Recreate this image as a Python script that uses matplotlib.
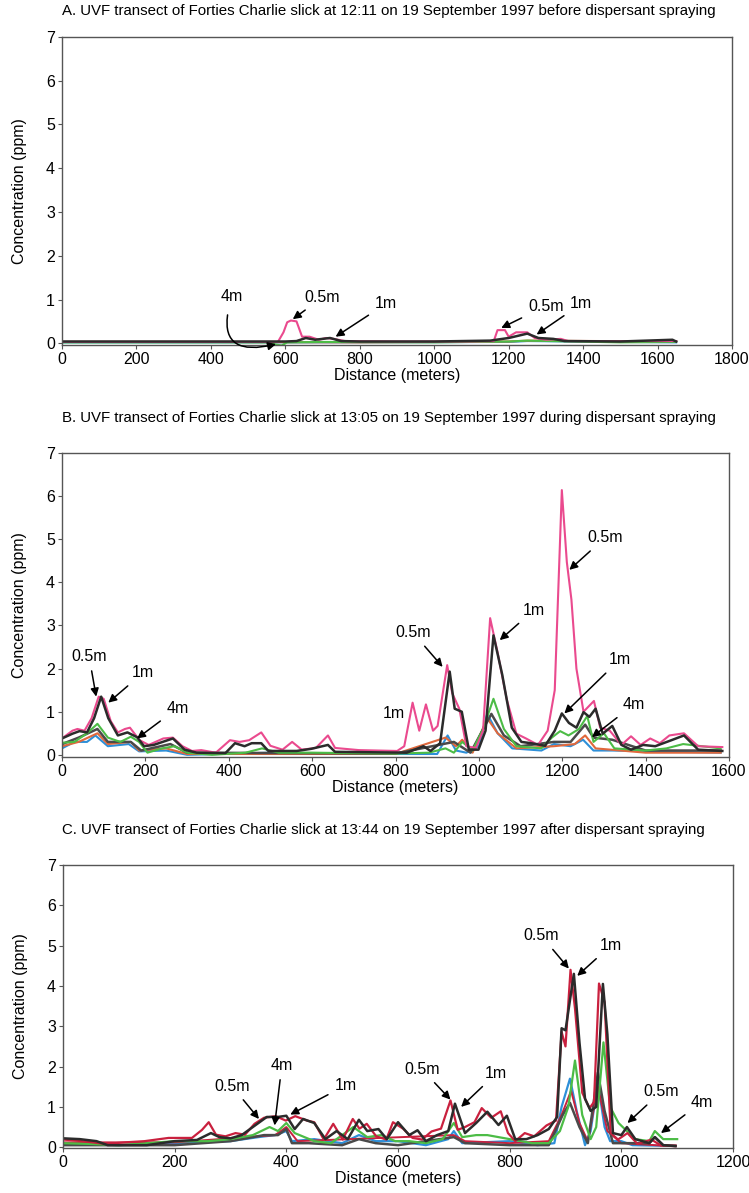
import matplotlib
matplotlib.use("Agg")
import matplotlib.pyplot as plt

# --------------------------------------------------
# DATA
# --------------------------------------------------
TITLE_A = "A. UVF transect of Forties Charlie slick at 12:11 on 19 September 1997 before dispersant spraying"
TITLE_B = "B. UVF transect of Forties Charlie slick at 13:05 on 19 September 1997 during dispersant spraying"
TITLE_C = "C. UVF transect of Forties Charlie slick at 13:44 on 19 September 1997 after dispersant spraying"

# ---- panel A ----
a_x_05 = [0, 200, 400, 580, 595, 605, 615, 630, 645, 665, 690, 710, 730, 760, 900, 1100, 1160, 1170,
          1190, 1200, 1220, 1250, 1270, 1300, 1340, 1360, 1500, 1650]
a_y_05 = [0.03, 0.03, 0.03, 0.03, 0.25, 0.48, 0.52, 0.5, 0.15, 0.15, 0.08, 0.12, 0.1, 0.05, 0.04, 0.04, 0.05, 0.3,
          0.3, 0.15, 0.25, 0.25, 0.12, 0.08, 0.1, 0.05, 0.05, 0.05]
a_x_1 = [0, 200, 400, 600, 630, 655, 680, 720, 750, 800, 1000, 1150, 1200, 1250, 1280, 1320, 1350, 1500, 1640, 1650]
a_y_1 = [0.04, 0.04, 0.04, 0.04, 0.05, 0.12, 0.08, 0.12, 0.05, 0.04, 0.04, 0.06, 0.12, 0.22, 0.12, 0.1, 0.05, 0.04, 0.08, 0.04]
a_x_g = [0, 300, 550, 575, 590, 605, 700, 1000, 1200, 1250, 1500, 1650]
a_y_g = [0.02, 0.02, 0.02, -0.03, -0.05, 0.02, 0.03, 0.02, 0.04, 0.06, 0.02, 0.03]
a_x_b = [0, 400, 800, 1200, 1250, 1650]
a_y_b = [0.02, 0.02, 0.02, 0.03, 0.05, 0.02]
a_x_o = [0, 400, 800, 1200, 1250, 1650]
a_y_o = [0.03, 0.03, 0.02, 0.04, 0.06, 0.04]

# ---- panel B ----
b_x_05 = [0, 25, 37, 54, 71, 88, 100, 117, 134, 151, 163, 186, 208, 243, 266, 289, 312, 334, 369,
          403, 426, 449, 478, 500, 529, 552, 575, 609, 638, 655, 712, 804, 821, 841, 857, 873, 890,
          901, 924, 936, 953, 970, 993, 1010, 1027, 1045, 1067, 1090, 1113, 1142, 1165, 1182, 1199,
          1211, 1222, 1234, 1251, 1276, 1291, 1314, 1342, 1365, 1388, 1411, 1434, 1457, 1492, 1526, 1584]
b_y_05 = [0.38, 0.56, 0.6, 0.56, 0.85, 1.35, 1.3, 0.78, 0.52, 0.6, 0.63, 0.34, 0.23, 0.38, 0.4, 0.2, 0.09, 0.11, 0.05,
          0.34, 0.3, 0.34, 0.52, 0.21, 0.12, 0.3, 0.12, 0.16, 0.45, 0.16, 0.11, 0.09, 0.2, 1.21, 0.56, 1.17, 0.56,
          0.67, 2.08, 1.43, 1.07, 0.2, 0.16, 0.56, 3.17, 2.37, 1.28, 0.49, 0.38, 0.23, 0.56, 1.5, 6.14,
          4.47, 3.6, 2.0, 1.0, 1.25, 0.63, 0.56, 0.23, 0.43, 0.23, 0.38, 0.27, 0.45, 0.5, 0.2, 0.18]
b_x_1 = [0, 25, 42, 60, 77, 94, 111, 134, 157, 180, 197, 220, 266, 294, 323, 392, 415, 438, 455, 478,
         495, 563, 598, 638, 655, 827, 867, 884, 907, 930, 942, 959, 976, 999, 1016, 1035, 1056, 1079,
         1102, 1125, 1159, 1182, 1199, 1216, 1234, 1251, 1265, 1280, 1297, 1320, 1342, 1365, 1394,
         1423, 1462, 1492, 1526, 1584]
b_y_1 = [0.38, 0.49, 0.55, 0.52, 0.85, 1.35, 0.85, 0.45, 0.52, 0.41, 0.2, 0.23, 0.38, 0.12, 0.05, 0.04, 0.27, 0.2, 0.27, 0.27,
         0.09, 0.09, 0.14, 0.23, 0.07, 0.05, 0.2, 0.09, 0.27, 1.93, 1.07, 1.0, 0.12, 0.12, 0.56, 2.77, 1.86, 0.63,
         0.3, 0.27, 0.21, 0.56, 0.96, 0.74, 0.63, 0.99, 0.88, 1.07, 0.49, 0.67, 0.23, 0.12, 0.23,
         0.2, 0.34, 0.45, 0.12, 0.09]
b_x_g = [0, 30, 60, 85, 110, 140, 165, 185, 205, 240, 270, 300, 360, 440, 480, 520, 600, 800, 880, 920,
         940, 960, 985, 1010, 1035, 1060, 1090, 1150, 1175, 1195, 1215, 1240, 1260, 1275, 1300, 1325,
         1400, 1450, 1490, 1580]
b_y_g = [0.28, 0.3, 0.5, 0.72, 0.4, 0.3, 0.42, 0.3, 0.05, 0.15, 0.2, 0.05, 0.0, 0.05, 0.15, 0.05, 0.05, 0.03, 0.05, 0.15,
         0.05, 0.3, 0.1, 0.6, 1.3, 0.6, 0.2, 0.15, 0.4, 0.55, 0.45, 0.6, 0.9, 0.3, 0.5, 0.15,
         0.1, 0.15, 0.25, 0.15]
b_x_b = [0, 30, 60, 80, 110, 160, 185, 250, 300, 500, 800, 900, 925, 945, 970, 1000, 1020, 1045, 1080,
         1150, 1180, 1220, 1250, 1275, 1320, 1580]
b_y_b = [0.15, 0.3, 0.3, 0.45, 0.2, 0.25, 0.08, 0.1, 0.0, 0.05, 0.02, 0.02, 0.45, 0.1, 0.05, 0.2, 0.95, 0.5, 0.15,
         0.1, 0.25, 0.2, 0.35, 0.1, 0.1, 0.05]
b_x_o = [0, 40, 85, 110, 165, 185, 250, 300, 800, 920, 945, 960, 985, 1020, 1045, 1090, 1180, 1230,
         1255, 1280, 1400, 1580]
b_y_o = [0.2, 0.3, 0.5, 0.25, 0.3, 0.1, 0.15, 0.02, 0.02, 0.4, 0.2, 0.35, 0.05, 0.85, 0.5, 0.15, 0.2, 0.25,
         0.45, 0.15, 0.05, 0.05]
b_x_k = [0, 40, 85, 110, 165, 190, 260, 300, 800, 940, 980, 1030, 1060, 1100, 1180, 1220, 1255, 1275,
         1320, 1400, 1580]
b_y_k = [0.25, 0.4, 0.6, 0.3, 0.3, 0.1, 0.25, 0.05, 0.03, 0.3, 0.05, 0.95, 0.45, 0.2, 0.3, 0.3, 0.7, 0.4,
         0.35, 0.1, 0.1]

# ---- panel C ----
c_x_05 = [0, 34, 77, 111, 146, 189, 231, 249, 261, 274, 291, 309, 326, 343, 360, 381, 399, 416, 437,
          450, 467, 484, 501, 519, 531, 544, 561, 579, 591, 609, 626, 643, 660, 677, 694, 707, 720, 737,
          750, 767, 784, 797, 810, 827, 844, 866, 883, 893, 900, 909, 917, 930, 943, 951, 960, 970,
          981, 994, 1011, 1029, 1054, 1071, 1097]
c_y_05 = [0.19, 0.15, 0.08, 0.12, 0.15, 0.23, 0.23, 0.43, 0.62, 0.31, 0.27, 0.35, 0.31, 0.58, 0.73, 0.77, 0.66, 0.77, 0.66,
          0.62, 0.19, 0.58, 0.19, 0.7, 0.46, 0.58, 0.27, 0.19, 0.62, 0.46, 0.23, 0.19, 0.39, 0.46, 1.16, 0.43, 0.5, 0.62,
          0.97, 0.73, 0.89, 0.35, 0.15, 0.35, 0.27, 0.54, 0.66, 2.86, 2.5, 4.4, 3.44, 1.35, 0.97, 1.12, 4.06, 3.6,
          0.35, 0.19, 0.35, 0.08, 0.19, 0.04, 0.04]
c_x_1 = [0, 30, 60, 80, 150, 200, 240, 265, 280, 300, 320, 345, 365, 385, 400, 415, 430, 450, 470, 490,
         510, 530, 545, 565, 580, 600, 620, 635, 650, 670, 690, 702, 720, 740, 760, 780, 795, 810, 830,
         850, 870, 885, 893, 900, 915, 925, 935, 945, 955, 967, 975, 985, 1000, 1010, 1025, 1050, 1060,
         1075, 1097]
c_y_1 = [0.22, 0.2, 0.15, 0.05, 0.05, 0.15, 0.18, 0.35, 0.25, 0.22, 0.3, 0.55, 0.75, 0.75, 0.78, 0.45, 0.7, 0.6, 0.2, 0.4,
         0.2, 0.68, 0.4, 0.45, 0.2, 0.62, 0.3, 0.42, 0.15, 0.3, 0.4, 1.08, 0.35, 0.6, 0.88, 0.55, 0.78, 0.2, 0.2,
         0.3, 0.45, 0.75, 2.95, 2.9, 4.3, 2.6, 1.2, 0.9, 1.0, 4.05, 2.8, 0.35, 0.3, 0.5, 0.2, 0.1, 0.25,
         0.05, 0.03]
c_x_g = [0, 50, 100, 200, 260, 300, 340, 370, 385, 400, 415, 450, 480, 520, 545, 570, 595, 620, 650,
         680, 700, 715, 740, 760, 800, 840, 870, 890, 905, 917, 930, 945, 955, 968, 980, 995, 1010, 1025,
         1050, 1060, 1075, 1100]
c_y_g = [0.1, 0.08, 0.05, 0.15, 0.15, 0.2, 0.3, 0.5, 0.4, 0.6, 0.35, 0.15, 0.1, 0.5, 0.25, 0.3, 0.15, 0.15, 0.1,
         0.2, 0.6, 0.25, 0.3, 0.3, 0.2, 0.1, 0.1, 0.4, 1.0, 2.15, 0.8, 0.2, 0.5, 2.6, 1.0, 0.6, 0.4, 0.2,
         0.15, 0.4, 0.2, 0.2]
c_x_b = [0, 100, 200, 300, 350, 380, 400, 410, 450, 500, 530, 560, 600, 650, 690, 700, 715, 800, 850,
         880, 893, 908, 920, 935, 945, 958, 970, 980, 1000, 1020, 1097]
c_y_b = [0.1, 0.05, 0.1, 0.15, 0.25, 0.3, 0.4, 0.15, 0.2, 0.1, 0.3, 0.15, 0.15, 0.05, 0.2, 0.4, 0.1, 0.15, 0.05,
         0.1, 1.0, 1.7, 0.9, 0.05, 0.4, 1.6, 0.5, 0.15, 0.15, 0.05, 0.03]
c_x_o = [0, 200, 380, 400, 420, 700, 720, 800, 870, 893, 910, 925, 940, 958, 975, 1000, 1097]
c_y_o = [0.12, 0.12, 0.3, 0.5, 0.15, 0.3, 0.15, 0.1, 0.15, 0.8, 1.4, 0.6, 0.15, 1.5, 0.4, 0.1, 0.02]
c_x_k = [0, 200, 300, 360, 385, 400, 410, 440, 500, 530, 560, 600, 700, 720, 800, 870, 895, 908, 925,
         940, 958, 970, 985, 1050, 1060, 1075, 1097]
c_y_k = [0.05, 0.05, 0.15, 0.3, 0.3, 0.45, 0.1, 0.1, 0.05, 0.2, 0.1, 0.05, 0.25, 0.1, 0.05, 0.05, 0.8, 1.1, 0.5,
         0.1, 1.85, 0.9, 0.1, 0.1, 0.25, 0.05, 0.03]

# annotations: (label, tip x, tip y, text x, text y)
notes_a = [("0.5m", 620, 0.55, 700, 1.05), ("1m", 735, 0.15, 870, 0.9),
           ("0.5m", 1180, 0.35, 1300, 0.85), ("1m", 1275, 0.2, 1395, 0.9)]
notes_b = [("0.5m", 82, 1.35, 65, 2.28), ("1m", 111, 1.21, 194, 1.9), ("4m", 180, 0.38, 277, 1.08),
           ("0.5m", 913, 2.04, 842, 2.83), ("1m", 1050, 2.66, 1131, 3.35), ("0.5m", 1217, 4.29, 1302, 5.03),
           ("1m", 1205, 0.96, 1337, 2.2), ("4m", 1271, 0.41, 1371, 1.16)]
notes_c = [("0.5m", 351, 0.7, 303, 1.51), ("4m", 379, 0.54, 392, 2.03), ("1m", 407, 0.81, 506, 1.53),
           ("0.5m", 694, 1.18, 643, 1.93), ("1m", 713, 1.0, 776, 1.83), ("0.5m", 906, 4.43, 857, 5.24),
           ("1m", 921, 4.25, 981, 5.0), ("0.5m", 1011, 0.6, 1071, 1.37), ("4m", 1071, 0.35, 1144, 1.12)]

# --------------------------------------------------
# STYLE
# --------------------------------------------------
FONT = ["Liberation Sans", "DejaVu Sans"]
PINK = "#ea4a8e"
CRIMSON = "#c9203e"
BLACK = "#2b2b2b"
GREEN = "#4cbc46"
BLUE = "#2d8fd8"
ORANGE = "#e0683c"
GRAY = "#4a4a4a"

plt.rcParams["font.family"] = FONT


def style_axes(ax, xmax, xstep, ymin):
    ax.set_xlim(0, xmax)
    ax.set_ylim(ymin, 7)
    ax.set_xticks(range(0, xmax + 1, xstep))
    ax.set_yticks(range(0, 8))
    for s in ax.spines.values():
        s.set_color("#555555")
        s.set_linewidth(1.0)
    ax.tick_params(direction="out", length=3, width=0.8, color="#555555", pad=2, labelsize=11.5)
    ax.set_xlabel("Distance (meters)", fontsize=11.5, labelpad=1)
    ax.set_ylabel("Concentration (ppm)", fontsize=11.5)
    ax.yaxis.set_label_coords(-0.052, 0.5)


def add_notes(ax, notes):
    for lab, x, y, tx, ty in notes:
        ax.annotate(lab, xy=(x, y), xytext=(tx, ty), fontsize=11.5,
                    ha="center", va="center",
                    arrowprops=dict(arrowstyle="-|>", color="black", lw=1.1,
                                    mutation_scale=12, shrinkA=3, shrinkB=0))


# --------------------------------------------------
# FIGURE
# --------------------------------------------------
fig = plt.figure(figsize=(7.49, 11.93), dpi=100)
H = 1193.0
W = 749.0

axA = fig.add_axes([62 / W, 1 - 345 / H, 670 / W, 308 / H])
axB = fig.add_axes([62 / W, 1 - 757 / H, 667 / W, 304 / H])
axC = fig.add_axes([63 / W, 1 - 1148 / H, 670 / W, 283 / H])

# panel A
axA.plot(a_x_b, a_y_b, color=BLUE, lw=1.5)
axA.plot(a_x_o, a_y_o, color=ORANGE, lw=1.5)
axA.plot(a_x_g, a_y_g, color=GREEN, lw=1.5)
axA.plot(a_x_05, a_y_05, color=PINK, lw=1.5)
axA.plot(a_x_1, a_y_1, color=BLACK, lw=1.8)
style_axes(axA, 1800, 200, -0.04)
add_notes(axA, notes_a)
axA.annotate("4m", xy=(575, -0.02), xytext=(457, 1.07), fontsize=11.5,
             ha="center", va="center", annotation_clip=False,
             arrowprops=dict(arrowstyle="-|>", color="black", lw=1.1, mutation_scale=12,
                             shrinkA=6, shrinkB=0, connectionstyle="arc3,rad=0.9"))

# panel B
axB.plot(b_x_b, b_y_b, color=BLUE, lw=1.5)
axB.plot(b_x_o, b_y_o, color=ORANGE, lw=1.5)
axB.plot(b_x_k, b_y_k, color=GRAY, lw=1.8)
axB.plot(b_x_g, b_y_g, color=GREEN, lw=1.5)
axB.plot(b_x_05, b_y_05, color=PINK, lw=1.5)
axB.plot(b_x_1, b_y_1, color=BLACK, lw=1.8)
style_axes(axB, 1600, 200, -0.05)
add_notes(axB, notes_b)
axB.text(795, 0.97, "1m", fontsize=11.5, ha="center", va="center")

# panel C
axC.plot(c_x_b, c_y_b, color=BLUE, lw=1.6)
axC.plot(c_x_o, c_y_o, color=CRIMSON, lw=1.4)
axC.plot(c_x_k, c_y_k, color=GRAY, lw=1.8)
axC.plot(c_x_g, c_y_g, color=GREEN, lw=1.6)
axC.plot(c_x_05, c_y_05, color=CRIMSON, lw=1.6)
axC.plot(c_x_1, c_y_1, color=BLACK, lw=1.8)
style_axes(axC, 1200, 200, -0.02)
add_notes(axC, notes_c)

fig.text(62 / W, 1 - 11 / H, TITLE_A, fontsize=10.8, va="center")
fig.text(62 / W, 1 - 418 / H, TITLE_B, fontsize=10.8, va="center")
fig.text(62 / W, 1 - 830 / H, TITLE_C, fontsize=10.8, va="center")

fig.savefig("out.png", dpi=100)
plt.close(fig)
